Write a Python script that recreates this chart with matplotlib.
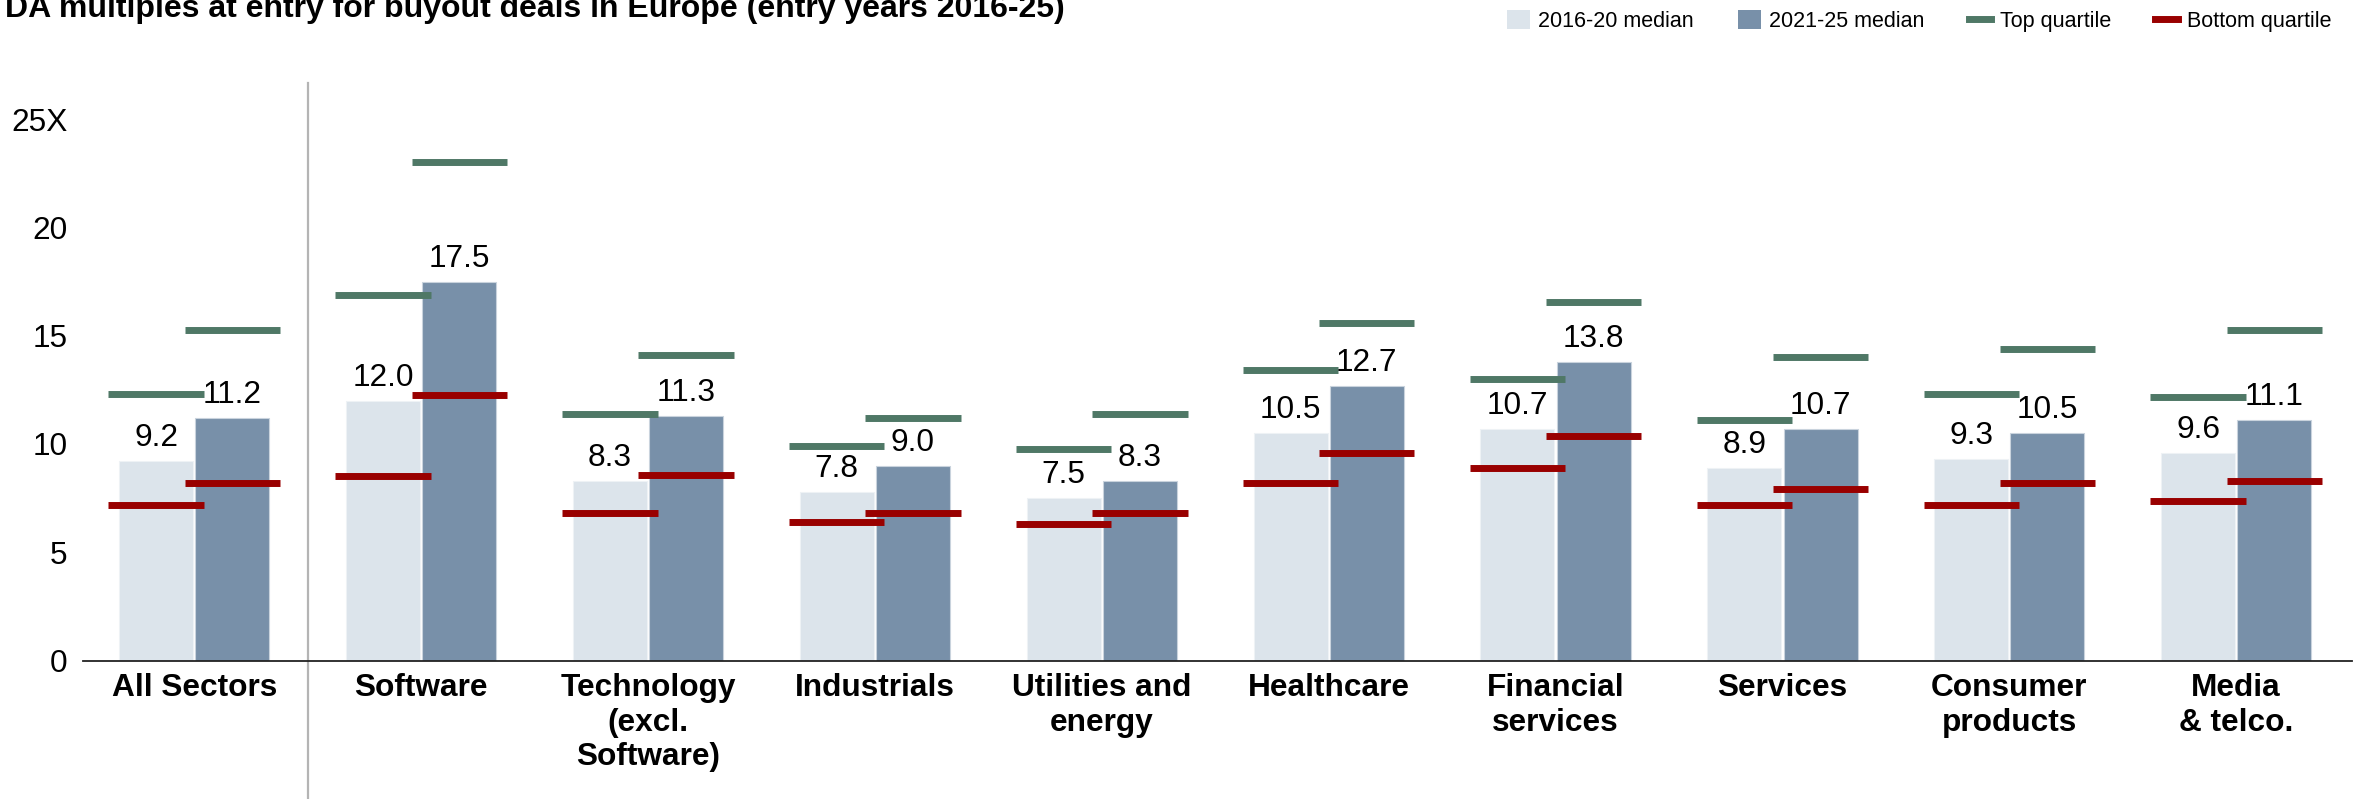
import numpy as np
import matplotlib.pyplot as plt
from matplotlib.patches import Patch
from matplotlib.lines import Line2D

plt.rcParams['font.family'] = ['Liberation Sans', 'DejaVu Sans']

# sector multiples (EV/EBITDA at entry)
sectors = ["All Sectors", "Software", "Technology\n(excl.\nSoftware)", "Industrials",
           "Utilities and\nenergy", "Healthcare", "Financial\nservices", "Services",
           "Consumer\nproducts", "Media\n& telco."]
median_1620 = [9.2, 12.0, 8.3, 7.8, 7.5, 10.5, 10.7, 8.9, 9.3, 9.6]
median_2125 = [11.2, 17.5, 11.3, 9.0, 8.3, 12.7, 13.8, 10.7, 10.5, 11.1]
top_1620 = [12.3, 16.9, 11.4, 9.9, 9.75, 13.4, 13.0, 11.1, 12.3, 12.15]
top_2125 = [15.25, 23.0, 14.1, 11.2, 11.4, 15.6, 16.55, 14.0, 14.4, 15.25]
bot_1620 = [7.2, 8.5, 6.8, 6.4, 6.3, 8.2, 8.9, 7.2, 7.2, 7.35]
bot_2125 = [8.2, 12.25, 8.55, 6.8, 6.8, 9.6, 10.35, 7.9, 8.2, 8.3]
yticks = [0, 5, 10, 15, 20, 25]
ytick_labels = ["0", "5", "10", "15", "20", "25X"]

c_light = "#dce4eb"
c_dark = "#7890a9"
c_top = "#4f7866"
c_bot = "#990000"

fs = 22.8
x = np.arange(len(sectors))
off = 0.168
bw = 0.326
qw = 0.42

fig = plt.figure(figsize=(23.59, 7.99), dpi=100)
ax = fig.add_axes([0.0352, 0.1733, 0.9618, 0.7228])

ax.bar(x - off, median_1620, bw, color=c_light, edgecolor="#eef2f5", linewidth=0.8, zorder=2)
ax.bar(x + off, median_2125, bw, color=c_dark, edgecolor="#c9d3dd", linewidth=0.8, zorder=2)

for xs, vals in [(x - off, top_1620), (x + off, top_2125)]:
    ax.hlines(vals, xs - qw / 2, xs + qw / 2, color=c_top, linewidth=5, zorder=3)
for xs, vals in [(x - off, bot_1620), (x + off, bot_2125)]:
    ax.hlines(vals, xs - qw / 2, xs + qw / 2, color=c_bot, linewidth=5, zorder=3)

for xs, vals in [(x - off, median_1620), (x + off, median_2125)]:
    for xi, v in zip(xs, vals):
        ax.annotate(f"{v:.1f}", (xi, v), xytext=(0, 10.8), textcoords="offset points",
                    ha="center", va="baseline", fontsize=fs, color="black", zorder=4)

# divider between the total and the individual sectors
ax.axvline(0.5, ymin=-0.24, ymax=1.0, color="#b4b4b4", linewidth=1.6, clip_on=False)

ax.set_xlim(-0.49, 9.51)
ax.set_ylim(0, 26.67)
ax.set_yticks(yticks)
ax.set_yticklabels(ytick_labels, fontsize=fs)
ax.set_xticks(x)
ax.set_xticklabels(sectors, fontsize=fs, fontweight="bold")
ax.tick_params(axis="y", length=0, pad=11)
ax.tick_params(axis="x", length=0, pad=9)
for s in ["top", "right", "left"]:
    ax.spines[s].set_visible(False)
ax.spines["bottom"].set_color("#222222")
ax.spines["bottom"].set_linewidth(1.3)
ax.spines["bottom"].set_zorder(5)

fig.text(5 / 2359, 1 - 16.7 / 799,
         "DA multiples at entry for buyout deals in Europe (entry years 2016-25)",
         fontsize=23, fontweight="bold", ha="left", va="baseline")

handles = [
    Patch(facecolor=c_light, edgecolor="none", label="2016-20 median"),
    Patch(facecolor=c_dark, edgecolor="none", label="2021-25 median"),
    Line2D([0], [0], color=c_top, linewidth=5, label="Top quartile"),
    Line2D([0], [0], color=c_bot, linewidth=5, label="Bottom quartile"),
]
fig.legend(handles=handles, loc="center right", bbox_to_anchor=(2331 / 2359, 1 - 21 / 799),
           ncol=4, frameon=False, fontsize=15.5, handlelength=1.05, handleheight=0.95,
           handletextpad=0.4, columnspacing=2.05, borderaxespad=0, borderpad=0)

fig.savefig("out.png", dpi=100)
